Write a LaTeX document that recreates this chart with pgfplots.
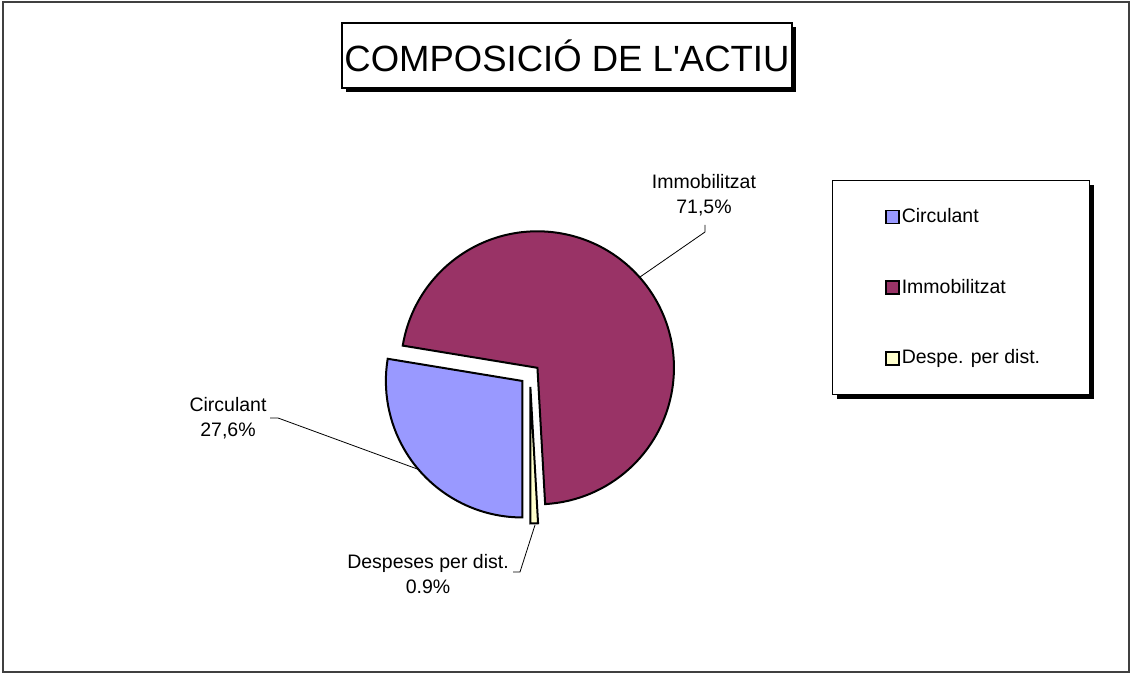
\documentclass[border=0pt]{standalone}
\usepackage{fontspec}
\setmainfont{Liberation Sans}
\usepackage{pgfplots}
\usepackage{pgfplotstable}
\pgfplotsset{compat=1.18}
\usetikzlibrary{shadows}

\definecolor{slice0}{HTML}{9999FF}
\definecolor{slice1}{HTML}{993366}
\definecolor{slice2}{HTML}{FFFFCC}

% share of the total (%) and how far each slice is pulled out (pt)
\pgfplotstableread[col sep=comma]{
name,value,explode
Circulant,27.6,5
Immobilitzat,71.5,5
Despeses,0.9,6.25
}\piedata

% slice angles, clockwise from the bottom as Excel draws them
\def\cumang{270}
\foreach \i in {0,1,2} {
  \pgfplotstablegetelem{\i}{value}\of\piedata
  \pgfmathsetmacro\sweep{3.6*\pgfplotsretval}
  \pgfmathsetmacro\endang{\cumang-\sweep}
  \pgfmathsetmacro\midang{\cumang-\sweep/2}
  \expandafter\xdef\csname sa\i\endcsname{\cumang}
  \expandafter\xdef\csname ea\i\endcsname{\endang}
  \expandafter\xdef\csname mid\i\endcsname{\midang}
  \pgfplotstablegetelem{\i}{explode}\of\piedata
  \expandafter\xdef\csname ex\i\endcsname{\pgfplotsretval}
  \xdef\cumang{\endang}
}

\newcommand{\labfont}{\fontsize{9.75}{12.5}\selectfont}

\begin{document}
\begin{tikzpicture}
\begin{axis}[
    x=0.5pt, y=0.5pt,
    xmin=0, xmax=1131, ymin=0, ymax=675,
    hide axis,
    clip=false,
    legend image code/.code={
        \path (0pt,0pt) (9.5pt,0pt);
        \draw[#1, line width=0.8pt] (3pt,-3.25pt) rectangle (9.5pt,3.25pt);},
    legend cell align=left,
    legend style={
        at={(0.7356,0.7333)}, anchor=north west,
        draw=black, line width=0.5pt, fill=white,
        font=\labfont,
        inner xsep=23.5pt, inner ysep=11pt,
        row sep=20.75pt,
        nodes={inner xsep=1pt, inner ysep=3pt}
    }
]
\path (axis cs:0,0) rectangle (axis cs:1131,675);
\draw[black!75, line width=0.75pt] (axis cs:3,3) rectangle (axis cs:1129,673);

% legend shadow
\fill[black] (axis cs:837,276) rectangle (axis cs:1094,490);

% slices
\pgfplotsinvokeforeach{0,1,2}{
  \filldraw[fill=slice#1, draw=black, line width=1pt, line join=miter]
    ([shift={(\csname mid#1\endcsname:\csname ex#1\endcsname pt)}]axis cs:530,300.5)
    -- ++(\csname sa#1\endcsname:68.25pt)
    arc[start angle=\csname sa#1\endcsname, end angle=\csname ea#1\endcsname, radius=68.25pt]
    -- cycle;
}

\addlegendimage{fill=slice0, draw=black}
\addlegendentry{Circulant}
\addlegendimage{fill=slice1, draw=black}
\addlegendentry{Immobilitzat}
\addlegendimage{fill=slice2, draw=black}
\addlegendentry{Despe. per dist.}

% data labels and leader lines
\draw[line width=0.4pt] (axis cs:705,450) -- (axis cs:705,443) -- (axis cs:640,398);
\draw[line width=0.4pt] (axis cs:270,257) -- (axis cs:278,257) -- (axis cs:420,205);
\draw[line width=0.4pt] (axis cs:513,103) -- (axis cs:520,103) -- (axis cs:535,150);
\node[align=center, font=\labfont] at (axis cs:704,479.5) {Immobilitzat\\71,5\%};
\node[align=center, font=\labfont] at (axis cs:228,256.5) {Circulant\\27,6\%};
\node[align=center, font=\labfont] at (axis cs:428,101) {Despeses per dist.\\0.9\%};

% title
\node[draw=black, line width=0.75pt, fill=white, inner sep=0pt,
      minimum width=225pt, minimum height=32.5pt,
      font=\fontsize{18.25}{20}\selectfont,
      drop shadow={shadow xshift=2pt, shadow yshift=-2pt, fill=black, opacity=1}]
  at (axis cs:567,619.5) {COMPOSICIÓ DE L\textquotesingle ACTIU};
\end{axis}
\end{tikzpicture}
\end{document}
